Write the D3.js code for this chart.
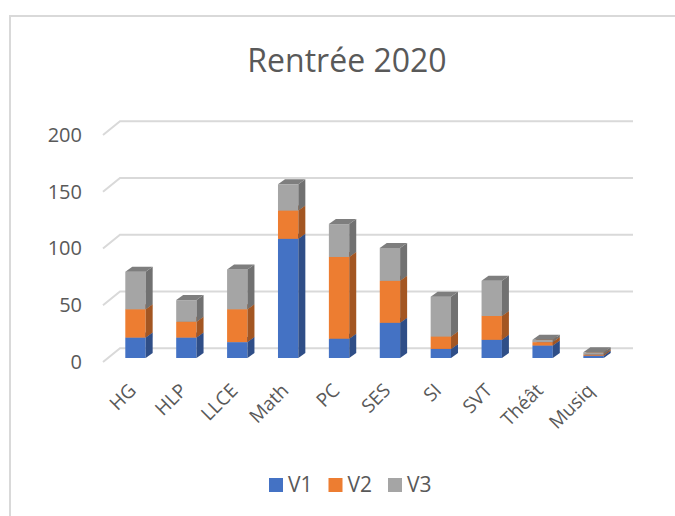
<!DOCTYPE html>
<html>
<head>
<meta charset="utf-8">
<script src="https://cdn.jsdelivr.net/npm/d3@7"></script>
<style>
  body { margin: 0; background: white; }
  svg { display: block; font-family: "Open Sans", sans-serif; }
</style>
</head>
<body>
<svg id="chart" width="675" height="516"></svg>
<script>
// data
var categories = ['HG', 'HLP', 'LLCE', 'Math', 'PC', 'SES', 'SI', 'SVT', 'Théât', 'Musiq']
var seriesNames = ['V1', 'V2', 'V3']
var v1 = [18, 18, 14, 105, 17, 31, 8, 16, 11, 2]
var v2 = [25, 14, 29, 25, 72, 37, 11, 21, 3, 1]
var v3 = [33, 19, 35, 23, 29, 29, 35, 31, 2, 2]
var ticks = [0, 50, 100, 150, 200]
var colors = ['#4472C4', '#ED7D31', '#A5A5A5']

const svg = d3.select('#chart')
const textColor = '#595959'
const gridColor = '#d9d9d9'

// fake 3d: back wall, bar plane and front edge are the same scale shifted
const wallY = d3.scaleLinear().domain([0, 200]).range([348.3, 121.3])
const barY = d3.scaleLinear().domain([0, 200]).range([358, 131])
const frontY = d3.scaleLinear().domain([0, 200]).range([362, 135])
const floorDx = 17 //front edge -> back wall
const depthDx = 7, depthDy = -5 //bar depth

const x = d3.scaleBand()
  .domain(categories)
  .range([108, 621])
  .paddingInner(0.6)
  .paddingOuter(0.34)

// border of the chart area (no right / bottom edge visible)
svg.append('path')
  .attr('d', 'M10,516 L10,16 L675,16')
  .attr('fill', 'none')
  .attr('stroke', gridColor)
  .attr('stroke-width', 2)

// title
svg.append('text')
  .text('Rentrée 2020')
  .attr('x', 347)
  .attr('y', 72)
  .attr('text-anchor', 'middle')
  .attr('font-size', 32)
  .attr('fill', textColor)

// gridlines on the back wall + diagonal on the side
const grid = svg.append('g')
ticks.forEach(t => {
  grid.append('path')
    .attr('d', `M${103},${frontY(t)} L${103 + floorDx},${wallY(t)} L633,${wallY(t)}`)
    .attr('fill', 'none')
    .attr('stroke', gridColor)
    .attr('stroke-width', 2)
})

// y tick labels
svg.append('g').selectAll('text')
  .data(ticks)
  .join('text')
  .text(d => d)
  .attr('x', 82)
  .attr('y', d => frontY(d) + 1.5)
  .attr('text-anchor', 'end')
  .attr('dominant-baseline', 'middle')
  .attr('font-size', 20)
  .attr('fill', textColor)

// stacked data
const rows = categories.map((c, i) => ({cat: c, V1: v1[i], V2: v2[i], V3: v3[i]}))
const stack = d3.stack().keys(seriesNames)(rows)

const w = x.bandwidth()
const bars = svg.append('g')
categories.forEach((c, i) => {
  const g = bars.append('g')
  const x0 = x(c)
  stack.forEach((layer, k) => {
    const y0 = barY(layer[i][0])
    const y1 = barY(layer[i][1])
    if (y0 - y1 <= 0) return
    const col = d3.color(colors[k])
    // front
    g.append('rect')
      .attr('x', x0)
      .attr('y', y1)
      .attr('width', w)
      .attr('height', y0 - y1)
      .attr('fill', colors[k])
    // right side
    g.append('path')
      .attr('d', `M${x0 + w},${y0} L${x0 + w + depthDx},${y0 + depthDy} L${x0 + w + depthDx},${y1 + depthDy} L${x0 + w},${y1} Z`)
      .attr('fill', col.darker(1.05))
    // top
    g.append('path')
      .attr('d', `M${x0},${y1} L${x0 + depthDx},${y1 + depthDy} L${x0 + w + depthDx},${y1 + depthDy} L${x0 + w},${y1} Z`)
      .attr('fill', col.darker(0.75))
  })
})

// category labels, rotated
svg.append('g').selectAll('text')
  .data(categories)
  .join('text')
  .text(d => d)
  .attr('transform', d => `translate(${x(d) + w / 2 - 3},${387}) rotate(-45)`)
  .attr('dy', '0.35em')
  .attr('text-anchor', 'end')
  .attr('font-size', 19)
  .attr('fill', textColor)

// legend
const legend = svg.append('g')
seriesNames.forEach((s, k) => {
  const lx = 269 + k * 59.5
  legend.append('rect')
    .attr('x', lx)
    .attr('y', 478)
    .attr('width', 14)
    .attr('height', 14)
    .attr('fill', colors[k])
  legend.append('text')
    .text(s)
    .attr('x', lx + 19)
    .attr('y', 492)
    .attr('font-size', 21)
    .attr('fill', textColor)
})
</script>
</body>
</html>
